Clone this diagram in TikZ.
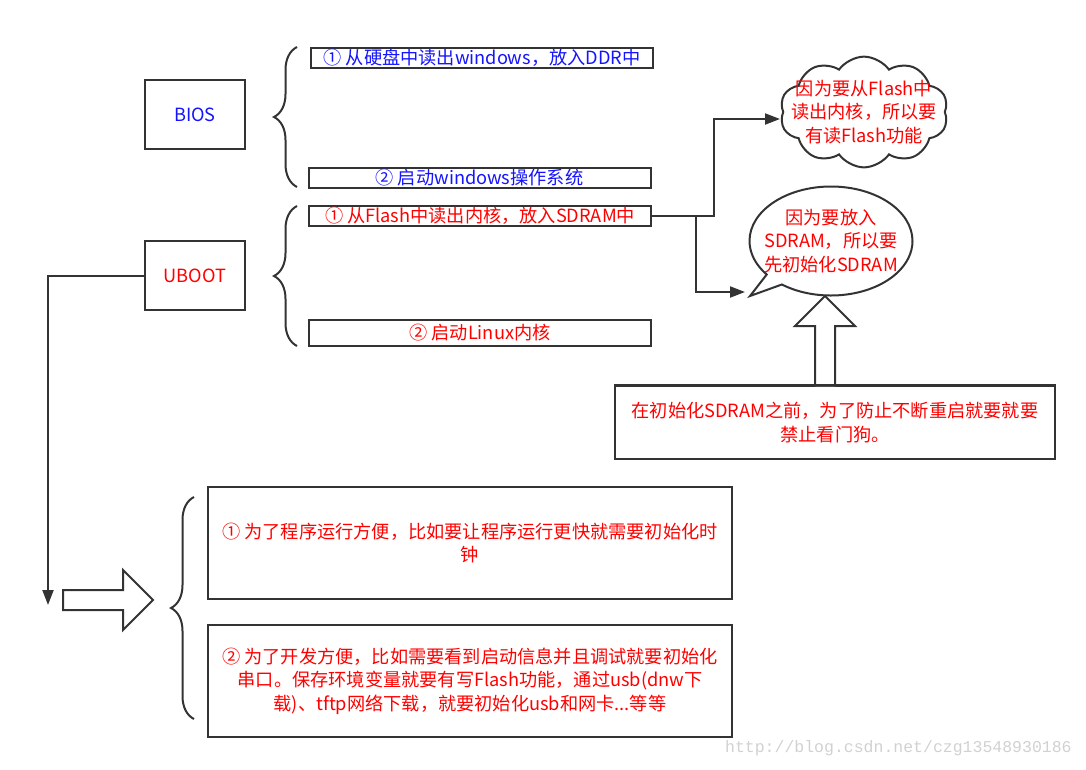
\documentclass[tikz,border=0pt]{standalone}
\usepackage{fontspec}
\setmainfont{Noto Sans CJK SC}
\newfontfamily\markfont{Liberation Mono}
\usepackage{xcolor}
\usetikzlibrary{arrows.meta,positioning,calc,shapes.symbols,shapes.callouts,decorations.pathreplacing}
\definecolor{edge}{HTML}{333333}
\definecolor{txtred}{HTML}{FF0000}
\definecolor{txtblue}{HTML}{1414FF}

\begin{document}
\begin{tikzpicture}[
 x=1pt,y=-1pt,line width=2pt,
 font=\fontsize{18.2}{23.5}\selectfont,
 box/.style={draw=edge,fill=white,align=center,inner sep=0pt},
 bar/.style={box,minimum width=342pt,minimum height=20pt},
 flow/.style={-{Triangle[length=15pt,width=11pt]},draw=edge},
 brc/.style={draw=edge,decorate,decoration={brace,amplitude=23pt}},
 blk/.style={draw=edge,fill=white,line join=miter}]
\useasboundingbox (0,0) rectangle (1086,769);
% left column
\node[box,minimum width=100pt,minimum height=69pt,text=txtblue] (bios) at (195,114.5) {BIOS};
\node[box,minimum width=100pt,minimum height=69pt,text=txtred] (uboot) at (195,275.5) {UBOOT};
\node[bar,text=txtblue] (b1) at (482,58) {① 从硬盘中读出windows，放入DDR中};
\node[bar,text=txtblue] (b2) at (479.5,178) {② 启动windows操作系统};
\node[bar,text=txtred] (u1) at (480,216) {① 从Flash中读出内核，放入SDRAM中};
\node[bar,text=txtred,minimum height=26pt] (u2) at (480,333) {② 启动Linux内核};
\draw[brc] (297,187) -- (297,47);
\draw[brc] (297,346) -- (297,206);
% notes on the right
\node[cloud,draw=edge,fill=white,cloud puffs=10,cloud puff arc=110,aspect=1.8,minimum width=168pt,
 minimum height=98pt,inner xsep=-16pt,inner ysep=-14pt,text=txtred,align=center] (flashnote) at (864,112)
 {因为要从Flash中\\读出内核，所以要\\有读Flash功能};
\node[ellipse callout,draw=edge,fill=white,minimum width=163pt,minimum height=109pt,
 inner xsep=-14pt,inner ysep=0pt,text=txtred,align=center,
 callout absolute pointer={(750,296)}] (sdramnote) at (831,241)
 {因为要放入\\SDRAM，所以要\\先初始化SDRAM};
\node[box,minimum width=440pt,minimum height=73pt,text=txtred] (wdog) at (835,422.5)
 {在初始化SDRAM之前，为了防止不断重启就要就要\\禁止看门狗。};
\coordinate (split) at (696,216);
\coordinate (cloudin) at (780,119);
\coordinate (bubin) at (745,292);
\draw[flow] (u1.east) -- (714,216) |- (cloudin);
\draw[flow] (split) |- (bubin);
\draw[blk] (815,386) -- (815,326) -- (795,326) -- (825,296) -- (855,326) -- (835,326) -- (835,386);
\draw[draw=edge] (wdog.north west) -- (wdog.north east);
% lower part
\coordinate (down) at (48,605);
\draw[flow] (uboot.west) -| (down);
\draw[blk] (63,590) -- (123,590) -- (123,570) -- (153,600) -- (123,630) -- (123,610) -- (63,610) -- cycle;
\draw[brc] (194,719) -- (194,497);
\node[box,minimum width=524pt,minimum height=112pt,text=txtred] (clk) at (470,543)
 {① 为了程序运行方便，比如要让程序运行更快就需要初始化时\\钟};
\node[box,minimum width=524pt,minimum height=112pt,text=txtred] (uart) at (470,681)
 {② 为了开发方便，比如需要看到启动信息并且调试就要初始化\\串口。保存环境变量就要有写Flash功能，通过usb(dnw下\\载)、tftp网络下载，就要初始化usb和网卡...等等};
\node[anchor=east,text=black!18,font=\markfont\fontsize{16.5}{16.5}\selectfont] (mark) at (1076,748)
 {http://blog.csdn.net/czg13548930186};
\end{tikzpicture}
\end{document}
